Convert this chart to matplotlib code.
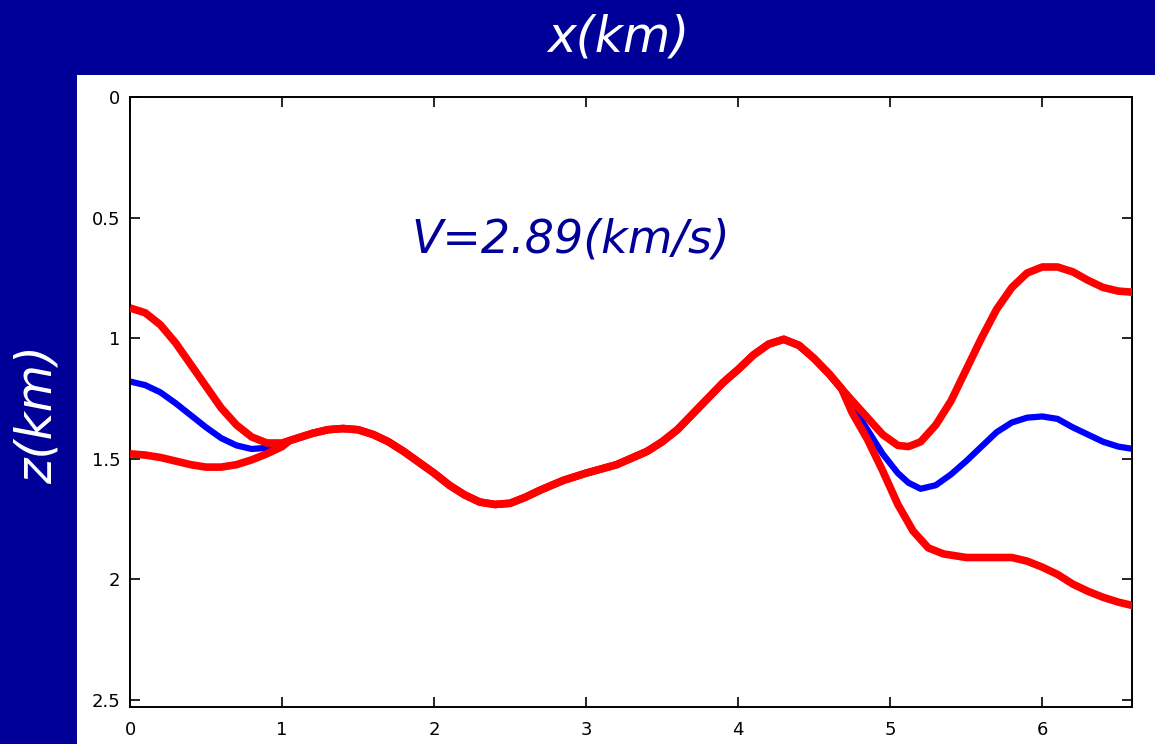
import numpy as np
import matplotlib
matplotlib.use("Agg")
import matplotlib.pyplot as plt
from matplotlib.patches import Rectangle

# depth profiles (x in km, z in km)
# left part, different for the three curves
x_left = [0.0, 0.1, 0.2, 0.3, 0.4, 0.5, 0.6, 0.7, 0.8, 0.9, 1.0]
z_left_upper = [0.875, 0.895, 0.945, 1.02, 1.11, 1.20, 1.29, 1.36, 1.41, 1.435, 1.435]
z_left_blue = [1.18, 1.195, 1.225, 1.27, 1.32, 1.37, 1.415, 1.445, 1.46, 1.455, 1.44]
z_left_lower = [1.48, 1.485, 1.495, 1.51, 1.525, 1.535, 1.535, 1.525, 1.505, 1.48, 1.45]

# middle part, shared by all curves
x_mid = [1.05, 1.2, 1.3, 1.4, 1.5, 1.6, 1.7, 1.8, 1.9, 2.0, 2.1, 2.2, 2.3, 2.4,
         2.5, 2.6, 2.7, 2.85, 3.0, 3.2, 3.4, 3.5, 3.6, 3.7, 3.8, 3.9, 4.0, 4.1,
         4.2, 4.3, 4.4, 4.5, 4.6, 4.68]
z_mid = [1.425, 1.395, 1.38, 1.375, 1.38, 1.40, 1.43, 1.47, 1.515, 1.56, 1.61,
         1.65, 1.68, 1.69, 1.685, 1.66, 1.63, 1.59, 1.56, 1.525, 1.47, 1.43, 1.38,
         1.315, 1.25, 1.185, 1.13, 1.07, 1.025, 1.005, 1.03, 1.085, 1.15, 1.21]

# right part, different for the three curves
x_right_upper = [4.75, 4.85, 4.95, 5.05, 5.12, 5.2, 5.3, 5.4, 5.5, 5.6, 5.7, 5.8,
                 5.9, 6.0, 6.1, 6.2, 6.3, 6.4, 6.5, 6.6]
z_right_upper = [1.26, 1.33, 1.40, 1.445, 1.45, 1.43, 1.36, 1.26, 1.13, 1.00, 0.88,
                 0.79, 0.73, 0.705, 0.705, 0.725, 0.76, 0.79, 0.805, 0.81]
x_right_blue = [4.75, 4.85, 4.95, 5.05, 5.12, 5.2, 5.3, 5.4, 5.5, 5.6, 5.7, 5.8,
                5.9, 6.0, 6.1, 6.2, 6.3, 6.4, 6.5, 6.6]
z_right_blue = [1.28, 1.38, 1.48, 1.56, 1.60, 1.625, 1.61, 1.565, 1.51, 1.45, 1.39,
                1.35, 1.33, 1.325, 1.335, 1.37, 1.40, 1.43, 1.45, 1.46]
x_right_lower = [4.75, 4.85, 4.95, 5.05, 5.15, 5.25, 5.35, 5.5, 5.65, 5.8, 5.9,
                 6.0, 6.1, 6.2, 6.3, 6.4, 6.5, 6.6]
z_right_lower = [1.31, 1.42, 1.55, 1.69, 1.80, 1.87, 1.895, 1.91, 1.91, 1.91, 1.925,
                 1.95, 1.98, 2.02, 2.05, 2.075, 2.095, 2.11]

x_ticks = [0, 1, 2, 3, 4, 5, 6]
z_ticks = [0, 0.5, 1, 1.5, 2, 2.5]
z_tick_labels = ["0", "0.5", "1", "1.5", "2", "2.5"]

BG = "#000099"

fig = plt.figure(figsize=(11.55, 7.44), dpi=100, facecolor=BG)
# white panel behind the axes
fig.patches.append(Rectangle((77 / 1155, 0), 1, 1 - 75 / 744,
                             transform=fig.transFigure, facecolor="white",
                             edgecolor="none", zorder=-5))

ax = fig.add_axes([130 / 1155, 1 - 707 / 744, (1132 - 130) / 1155, (707 - 97) / 744])
ax.set_facecolor("white")

upper_x = x_left + x_mid + x_right_upper
upper_z = z_left_upper + z_mid + z_right_upper
blue_x = x_left + x_mid + x_right_blue
blue_z = z_left_blue + z_mid + z_right_blue
lower_x = x_left + x_mid + x_right_lower
lower_z = z_left_lower + z_mid + z_right_lower

line_kw = dict(solid_capstyle="butt", solid_joinstyle="round")
ax.plot(blue_x, blue_z, color="#0000ff", lw=4.5, zorder=2, **line_kw)
ax.plot(upper_x, upper_z, color="#ff0000", lw=5.5, zorder=3, **line_kw)
ax.plot(lower_x, lower_z, color="#ff0000", lw=5.5, zorder=3, **line_kw)

ax.set_xlim(0, 6.59)
ax.set_ylim(2.53, 0)
ax.set_xticks(x_ticks)
ax.set_yticks(z_ticks)
ax.set_yticklabels(z_tick_labels)
ax.tick_params(direction="in", length=7, width=1.2, top=True, right=True,
               labelsize=13, colors="black", pad=7)
ax.tick_params(axis="x", pad=10)
for s in ax.spines.values():
    s.set_linewidth(1.4)
    s.set_color("black")

ax.text(0.44, 0.765, "V=2.89(km/s)", transform=ax.transAxes, ha="center", va="center",
        color=BG, fontsize=33, style="italic")

fig.text(618 / 1155, 1 - 37 / 744, "x(km)", ha="center", va="center", color="white",
         fontsize=35, style="italic")
fig.text(38 / 1155, 1 - 415 / 744, "z(km)", ha="center", va="center", color="white",
         fontsize=35, style="italic", rotation=90)

fig.savefig("out.png", dpi=100, facecolor=BG)
